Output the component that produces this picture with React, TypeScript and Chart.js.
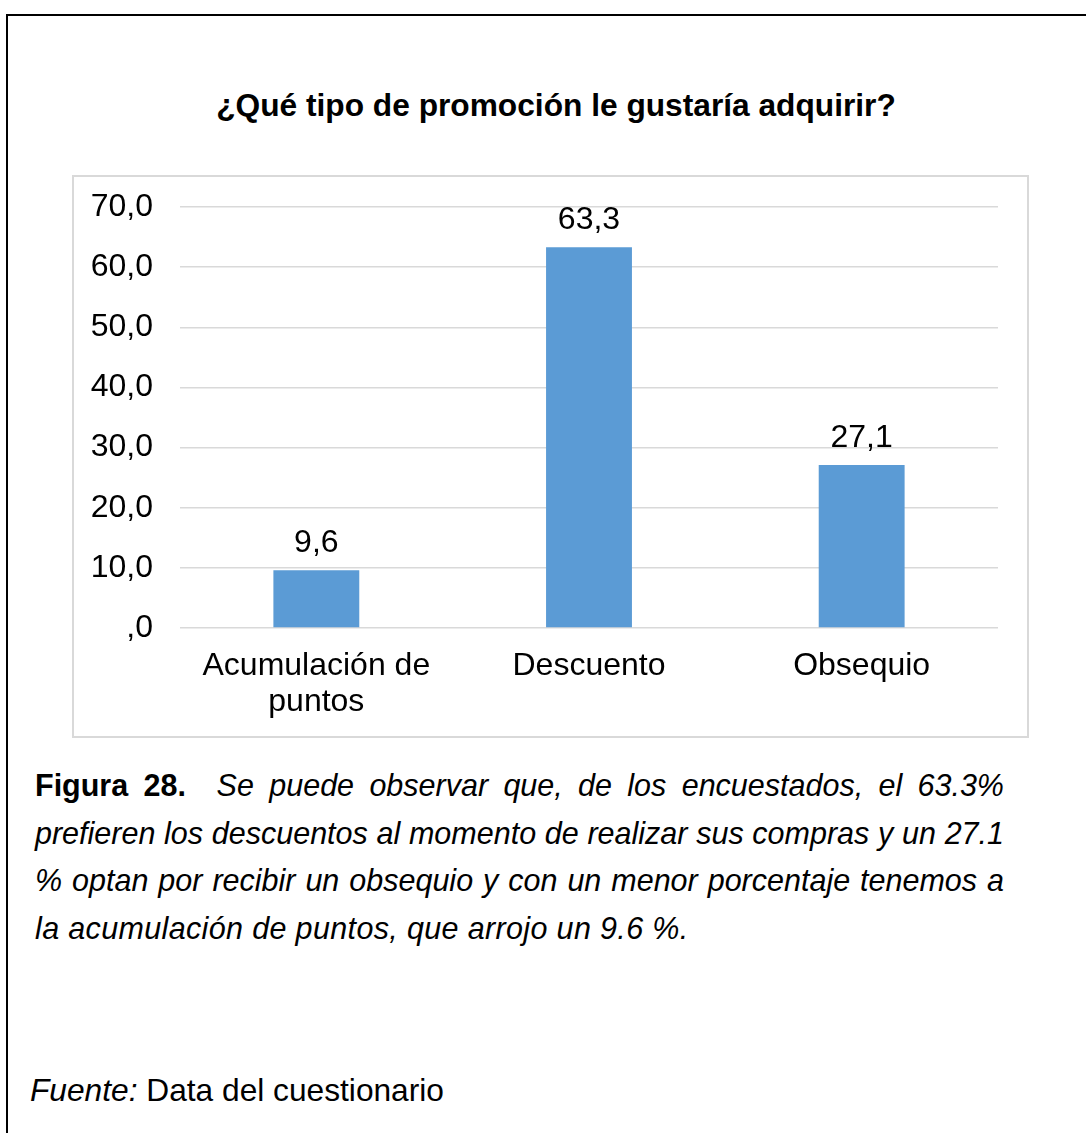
import React, { useEffect, useRef } from "react";
import { Chart, registerables } from "chart.js";

Chart.register(...registerables);

const chartTitle = "¿Qué tipo de promoción le gustaría adquirir?";
const categories: (string | string[])[] = [["Acumulación de", "puntos"], "Descuento", "Obsequio"];
const values = [9.6, 63.3, 27.1];
const yTicks = [0, 10, 20, 30, 40, 50, 60, 70];
const captionLines = [
  "Se puede observar que, de los encuestados, el 63.3%",
  "prefieren los descuentos al momento de realizar sus compras y un 27.1",
  "% optan por recibir un obsequio y con un menor porcentaje tenemos a",
  "la acumulación de puntos, que arrojo un 9.6 %.",
];
const figureLabel = "Figura 28.";
const sourceLabel = "Fuente:";
const sourceText = " Data del cuestionario";

const FONT = "'Liberation Sans', Arial, sans-serif";
const fmt = (v: number) => (v === 0 ? ",0" : v.toFixed(1).replace(".", ","));

const dataLabelPlugin = {
  id: "dataLabels",
  afterDatasetsDraw(chart: any) {
    const ctx = chart.ctx;
    const meta = chart.getDatasetMeta(0);
    ctx.save();
    ctx.font = `32px ${FONT}`;
    ctx.fillStyle = "#000000";
    ctx.textAlign = "center";
    ctx.textBaseline = "alphabetic";
    meta.data.forEach((bar: any, i: number) => {
      const v = chart.data.datasets[0].data[i] as number;
      ctx.fillText(fmt(v), bar.x, bar.y - 18);
    });
    ctx.restore();
  },
};

function BarChart() {
  const ref = useRef<HTMLCanvasElement | null>(null);
  useEffect(() => {
    if (!ref.current) return;
    const chart = new Chart(ref.current, {
      type: "bar",
      data: {
        labels: categories,
        datasets: [
          {
            data: values,
            backgroundColor: "#5B9BD5",
            borderWidth: 0,
            barPercentage: 0.315,
            categoryPercentage: 1,
          },
        ],
      },
      options: {
        animation: false,
        responsive: false,
        maintainAspectRatio: false,
        devicePixelRatio: 1,
        layout: { padding: { top: 32, right: 31, left: 0, bottom: 0 } },
        plugins: {
          legend: { display: false },
          tooltip: { enabled: false },
          title: { display: false },
        },
        scales: {
          x: {
            grid: { display: false, drawTicks: false },
            border: { display: false },
            ticks: {
              color: "#000000",
              font: { family: FONT, size: 32, lineHeight: 1.125 },
              padding: 20,
              maxRotation: 0,
              autoSkip: false,
            },
            afterFit: (s: any) => {
              s.height = 110;
            },
          },
          y: {
            min: 0,
            max: 70,
            afterBuildTicks: (s: any) => {
              s.ticks = yTicks.map((v) => ({ value: v }));
            },
            grid: {
              color: "#D9D9D9",
              lineWidth: 1.5,
              drawTicks: true,
              tickLength: 21,
              tickColor: "rgba(0,0,0,0)",
            },
            border: { display: false },
            ticks: {
              color: "#000000",
              font: { family: FONT, size: 32 },
              padding: 6,
              callback: (v: any) => fmt(Number(v)),
            },
            afterFit: (s: any) => {
              s.width = 108;
            },
          },
        },
      },
      plugins: [dataLabelPlugin],
    });
    return () => chart.destroy();
  }, []);
  return (
    <canvas
      ref={ref}
      width={957}
      height={563}
      style={{ position: "absolute", left: 72, top: 175, width: 957, height: 563 }}
    />
  );
}

export default function App() {
  const captionStyle: React.CSSProperties = {
    position: "absolute",
    left: 35,
    width: 969,
    fontFamily: FONT,
    fontSize: 30.5,
    lineHeight: "47.5px",
    color: "#000",
    whiteSpace: "pre-wrap",
  };
  return (
    <div
      style={{
        position: "absolute",
        left: 0,
        top: 0,
        width: 1086,
        height: 1133,
        overflow: "hidden",
        background: "#fff",
      }}
    >
      <div
        style={{
          position: "absolute",
          left: 6,
          top: 14,
          width: 1200,
          height: 1300,
          borderTop: "2px solid #000",
          borderLeft: "2px solid #000",
        }}
      />
      <div
        style={{
          position: "absolute",
          left: 100,
          width: 912,
          top: 87,
          textAlign: "center",
          fontFamily: FONT,
          fontWeight: "bold",
          fontSize: 31.7,
          lineHeight: "36px",
          color: "#000",
        }}
      >
        {chartTitle}
      </div>
      <div
        style={{
          position: "absolute",
          left: 72,
          top: 175,
          width: 957,
          height: 563,
          border: "2px solid #D9D9D9",
          boxSizing: "border-box",
        }}
      />
      <BarChart />
      {captionLines.map((line, i) => (
        <div
          key={i}
          style={{
            ...captionStyle,
            top: 762 + i * 47.5,
            textAlign: i < 3 ? "justify" : "left",
            textAlignLast: i < 3 ? "justify" : "left",
            letterSpacing: i < 3 ? 0 : 0.35,
          }}
        >
          {i === 0 ? (
            <>
              <b>{figureLabel}</b>
              {"  "}
              <i>{line}</i>
            </>
          ) : (
            <i>{line}</i>
          )}
        </div>
      ))}
      <div style={{ ...captionStyle, left: 30, top: 1067, fontSize: 31.7 }}>
        <i>{sourceLabel}</i>
        {sourceText}
      </div>
    </div>
  );
}
